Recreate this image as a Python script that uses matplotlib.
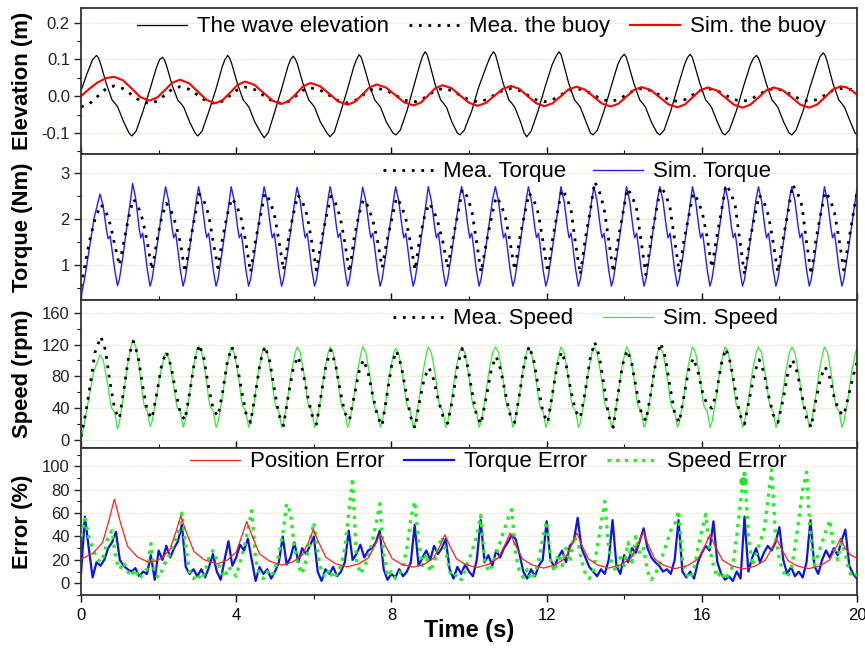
import numpy as np
import matplotlib
matplotlib.use('Agg')
import matplotlib.pyplot as plt
from matplotlib.ticker import MultipleLocator, FormatStrFormatter

plt.rcParams['font.family'] = ['Liberation Sans', 'DejaVu Sans']

# ---------------- panel 1: elevation (m) ----------------
wave_t = [0.0, 0.15, 0.30, 0.40,
          0.45, 0.50, 0.65, 0.80, 0.88, 0.95, 1.10, 1.24, 1.31,
          1.42, 1.60, 1.78, 1.95, 2.03, 2.10,
          2.15, 2.20, 2.35, 2.50, 2.58, 2.65, 2.80, 2.94, 3.01,
          3.12, 3.30, 3.48, 3.64, 3.71, 3.78,
          3.83, 3.88, 4.03, 4.18, 4.26, 4.33, 4.48, 4.64, 4.72,
          4.83, 5.00, 5.17, 5.33, 5.40, 5.47,
          5.52, 5.57, 5.72, 5.87, 5.95, 6.02, 6.17, 6.34, 6.42,
          6.53, 6.70, 6.87, 7.03, 7.10, 7.17,
          7.22, 7.27, 7.42, 7.57, 7.65, 7.72, 7.87, 8.04, 8.12,
          8.23, 8.40, 8.57, 8.73, 8.80, 8.87,
          8.92, 8.97, 9.12, 9.27, 9.35, 9.42, 9.56, 9.70, 9.77,
          9.88, 10.07, 10.25, 10.46, 10.55, 10.63,
          10.68, 10.73, 10.88, 11.03, 11.11, 11.18, 11.33, 11.42, 11.49,
          11.60, 11.78, 11.96, 12.14, 12.24, 12.32,
          12.37, 12.42, 12.57, 12.72, 12.80, 12.87, 13.02, 13.13, 13.20,
          13.31, 13.48, 13.66, 13.83, 13.92, 14.00,
          14.05, 14.10, 14.25, 14.40, 14.48, 14.55, 14.70, 14.85, 14.92,
          15.03, 15.20, 15.38, 15.55, 15.63, 15.70,
          15.75, 15.80, 15.95, 16.10, 16.18, 16.25, 16.40, 16.53, 16.60,
          16.71, 16.89, 17.07, 17.25, 17.33, 17.41,
          17.46, 17.51, 17.66, 17.81, 17.89, 17.96, 18.11, 18.25, 18.32,
          18.43, 18.61, 18.79, 18.97, 19.05, 19.13,
          19.18, 19.23, 19.38, 19.53, 19.61, 19.68, 19.83, 19.95, 20.0]
wave_elev = [0.015, 0.06, 0.10, 0.111,
             0.104, 0.09, 0.035, -0.01, -0.02, -0.03, -0.07, -0.10, -0.108,
             -0.095, -0.04, 0.02, 0.08, 0.10, 0.106,
             0.099, 0.085, 0.03, -0.012, -0.02, -0.03, -0.07, -0.10, -0.108,
             -0.095, -0.04, 0.02, 0.08, 0.10, 0.111,
             0.104, 0.09, 0.035, -0.01, -0.02, -0.03, -0.07, -0.10, -0.113,
             -0.098, -0.04, 0.02, 0.08, 0.10, 0.109,
             0.102, 0.09, 0.035, -0.01, -0.02, -0.03, -0.07, -0.10, -0.110,
             -0.097, -0.04, 0.02, 0.08, 0.10, 0.113,
             0.106, 0.09, 0.035, -0.01, -0.02, -0.03, -0.07, -0.10, -0.105,
             -0.092, -0.04, 0.025, 0.085, 0.108, 0.121,
             0.114, 0.095, 0.035, -0.01, -0.02, -0.03, -0.07, -0.10, -0.105,
             -0.092, -0.04, 0.025, 0.085, 0.108, 0.121,
             0.114, 0.095, 0.035, -0.01, -0.02, -0.03, -0.07, -0.10, -0.110,
             -0.095, -0.04, 0.025, 0.085, 0.108, 0.121,
             0.114, 0.095, 0.035, -0.01, -0.02, -0.03, -0.07, -0.10, -0.105,
             -0.092, -0.04, 0.025, 0.085, 0.105, 0.114,
             0.107, 0.09, 0.035, -0.01, -0.02, -0.03, -0.07, -0.10, -0.105,
             -0.092, -0.04, 0.025, 0.085, 0.105, 0.114,
             0.107, 0.09, 0.035, -0.01, -0.02, -0.03, -0.07, -0.10, -0.105,
             -0.092, -0.04, 0.025, 0.085, 0.103, 0.111,
             0.104, 0.09, 0.035, -0.01, -0.02, -0.03, -0.07, -0.10, -0.105,
             -0.092, -0.04, 0.025, 0.085, 0.108, 0.118,
             0.111, 0.095, 0.035, -0.01, -0.02, -0.03, -0.07, -0.10, -0.105]

buoy_t = [0.0, 0.21, 0.42, 0.64, 0.85,
          1.08, 1.31, 1.53, 1.76,
          1.96, 2.16, 2.35, 2.55,
          2.78, 3.01, 3.23, 3.46,
          3.65, 3.85, 4.04, 4.23,
          4.47, 4.70, 4.94, 5.17,
          5.36, 5.55, 5.73, 5.92,
          6.16, 6.40, 6.63, 6.87,
          7.06, 7.25, 7.43, 7.62,
          7.86, 8.10, 8.33, 8.57,
          8.76, 8.95, 9.13, 9.32,
          9.55, 9.77, 10.00, 10.22,
          10.44, 10.65, 10.87, 11.08,
          11.30, 11.51, 11.73, 11.94,
          12.15, 12.36, 12.56, 12.77,
          12.99, 13.21, 13.43, 13.65,
          13.85, 14.05, 14.25, 14.45,
          14.68, 14.91, 15.14, 15.37,
          15.57, 15.76, 15.96, 16.15,
          16.38, 16.60, 16.83, 17.05,
          17.25, 17.46, 17.66, 17.86,
          18.09, 18.32, 18.54, 18.77,
          18.97, 19.18, 19.38, 19.58,
          19.72, 19.86, 20.0]
mea_buoy = [-0.029, -0.021, -0.001, 0.020, 0.028,
            0.021, 0.004, -0.013, -0.020,
            -0.0133, 0.003, 0.0193, 0.026,
            0.0193, 0.003, -0.0133, -0.020,
            -0.0134, 0.0025, 0.0184, 0.025,
            0.0184, 0.0025, -0.0134, -0.020,
            -0.0137, 0.0015, 0.0167, 0.023,
            0.017, 0.0025, -0.012, -0.018,
            -0.0122, 0.002, 0.0162, 0.022,
            0.0164, 0.003, -0.0104, -0.016,
            -0.0106, 0.0025, 0.0156, 0.021,
            0.0157, 0.003, -0.0097, -0.015,
            -0.0097, 0.003, 0.0157, 0.021,
            0.0157, 0.003, -0.0097, -0.015,
            -0.0097, 0.003, 0.0157, 0.021,
            0.0159, 0.0035, -0.0089, -0.014,
            -0.0089, 0.0035, 0.0159, 0.021,
            0.0159, 0.0035, -0.0089, -0.014,
            -0.0089, 0.0035, 0.0159, 0.021,
            0.0159, 0.0035, -0.0089, -0.014,
            -0.0089, 0.0035, 0.0159, 0.021,
            0.0159, 0.0035, -0.0089, -0.014,
            -0.0089, 0.0035, 0.0159, 0.021,
            0.020, 0.018, 0.014]
sim_buoy = [0.0, 0.020, 0.037, 0.049, 0.053,
            0.0435, 0.0205, -0.0025, -0.012,
            -0.0037, 0.0165, 0.0367, 0.045,
            0.0357, 0.013, -0.0097, -0.019,
            -0.0104, 0.0105, 0.0314, 0.040,
            0.0311, 0.0095, -0.0121, -0.021,
            -0.0127, 0.0075, 0.0277, 0.036,
            0.0274, 0.0065, -0.0144, -0.023,
            -0.015, 0.0045, 0.024, 0.032,
            0.0237, 0.0035, -0.0167, -0.025,
            -0.017, 0.0025, 0.022, 0.030,
            0.0218, 0.002, -0.0178, -0.026,
            -0.0181, 0.001, 0.0201, 0.028,
            0.020, 0.0005, -0.019, -0.027,
            -0.0193, -0.0005, 0.0183, 0.026,
            0.0181, -0.001, -0.0201, -0.028,
            -0.0203, -0.0015, 0.0173, 0.025,
            0.017, -0.0025, -0.022, -0.030,
            -0.0221, -0.003, 0.0161, 0.024,
            0.016, -0.0035, -0.023, -0.031,
            -0.023, -0.0035, 0.016, 0.024,
            0.016, -0.0035, -0.023, -0.031,
            -0.0225, -0.002, 0.0185, 0.027,
            0.0245, 0.016, 0.004]

# ---------------- panels 2 and 3: simulated torque / speed ----------------
t_sim = [0.0, 0.10, 0.22, 0.34,
         0.49, 0.57, 0.66, 0.70, 0.75, 0.79, 0.87, 0.94, 0.99, 1.09, 1.19, 1.29,
         1.33, 1.41, 1.50, 1.54, 1.59, 1.63, 1.71, 1.78, 1.83, 1.93, 2.03, 2.13,
         2.18, 2.26, 2.35, 2.39, 2.44, 2.48, 2.56, 2.63, 2.68, 2.78, 2.88, 2.98,
         3.03, 3.11, 3.20, 3.24, 3.29, 3.33, 3.41, 3.48, 3.53, 3.63, 3.73, 3.83,
         3.87, 3.95, 4.04, 4.08, 4.13, 4.17, 4.25, 4.32, 4.37, 4.47, 4.57, 4.67,
         4.72, 4.80, 4.89, 4.93, 4.98, 5.02, 5.10, 5.17, 5.22, 5.32, 5.42, 5.52,
         5.57, 5.65, 5.74, 5.78, 5.83, 5.87, 5.95, 6.02, 6.07, 6.17, 6.27, 6.37,
         6.42, 6.50, 6.59, 6.63, 6.68, 6.72, 6.80, 6.87, 6.92, 7.02, 7.12, 7.22,
         7.26, 7.34, 7.43, 7.47, 7.52, 7.56, 7.64, 7.71, 7.76, 7.86, 7.96, 8.06,
         8.11, 8.19, 8.28, 8.32, 8.37, 8.41, 8.49, 8.56, 8.61, 8.71, 8.81, 8.91,
         8.95, 9.03, 9.12, 9.16, 9.21, 9.25, 9.33, 9.40, 9.45, 9.55, 9.65, 9.75,
         9.81, 9.89, 9.98, 10.02, 10.07, 10.11, 10.19, 10.26, 10.31, 10.41, 10.51, 10.61,
         10.68, 10.76, 10.85, 10.89, 10.94, 10.98, 11.06, 11.13, 11.18, 11.28, 11.38, 11.48,
         11.53, 11.61, 11.70, 11.74, 11.79, 11.83, 11.91, 11.98, 12.03, 12.13, 12.23, 12.33,
         12.37, 12.45, 12.54, 12.58, 12.63, 12.67, 12.75, 12.82, 12.87, 12.97, 13.07, 13.17,
         13.22, 13.30, 13.39, 13.43, 13.48, 13.52, 13.60, 13.67, 13.72, 13.82, 13.92, 14.02,
         14.06, 14.14, 14.23, 14.27, 14.32, 14.36, 14.44, 14.51, 14.56, 14.66, 14.76, 14.86,
         14.92, 15.00, 15.09, 15.13, 15.18, 15.22, 15.30, 15.37, 15.42, 15.52, 15.62, 15.72,
         15.76, 15.84, 15.93, 15.97, 16.02, 16.06, 16.14, 16.21, 16.26, 16.36, 16.46, 16.56,
         16.60, 16.68, 16.77, 16.81, 16.86, 16.90, 16.98, 17.05, 17.10, 17.20, 17.30, 17.40,
         17.46, 17.54, 17.63, 17.67, 17.72, 17.76, 17.84, 17.91, 17.96, 18.06, 18.16, 18.26,
         18.32, 18.40, 18.49, 18.53, 18.58, 18.62, 18.70, 18.77, 18.82, 18.92, 19.02, 19.12,
         19.16, 19.24, 19.33, 19.37, 19.42, 19.46, 19.54, 19.61, 19.66, 19.76, 19.86, 19.96,
         20.0]
torque_sim = [0.31, 0.75, 1.39, 2.04,
              2.55, 2.30, 1.75, 1.58, 1.64, 1.40, 0.90, 0.56, 0.70, 1.25, 1.90, 2.50,
              2.78, 2.45, 1.80, 1.60, 1.70, 1.45, 0.90, 0.55, 0.70, 1.25, 1.85, 2.45,
              2.71, 2.40, 1.80, 1.60, 1.70, 1.45, 0.90, 0.55, 0.70, 1.25, 1.85, 2.45,
              2.71, 2.40, 1.80, 1.61, 1.70, 1.45, 0.90, 0.55, 0.70, 1.25, 1.85, 2.45,
              2.71, 2.40, 1.80, 1.60, 1.69, 1.45, 0.90, 0.55, 0.70, 1.25, 1.85, 2.45,
              2.71, 2.40, 1.80, 1.60, 1.70, 1.45, 0.90, 0.55, 0.70, 1.25, 1.85, 2.45,
              2.70, 2.40, 1.80, 1.60, 1.70, 1.45, 0.90, 0.55, 0.70, 1.25, 1.85, 2.45,
              2.71, 2.40, 1.80, 1.61, 1.70, 1.45, 0.90, 0.55, 0.70, 1.25, 1.85, 2.45,
              2.70, 2.40, 1.80, 1.60, 1.70, 1.45, 0.90, 0.55, 0.70, 1.25, 1.85, 2.45,
              2.71, 2.40, 1.80, 1.60, 1.70, 1.45, 0.90, 0.55, 0.70, 1.25, 1.85, 2.45,
              2.71, 2.40, 1.80, 1.60, 1.70, 1.45, 0.90, 0.55, 0.70, 1.25, 1.85, 2.45,
              2.71, 2.40, 1.80, 1.60, 1.70, 1.45, 0.90, 0.55, 0.70, 1.25, 1.85, 2.45,
              2.71, 2.40, 1.80, 1.60, 1.70, 1.45, 0.90, 0.55, 0.70, 1.25, 1.85, 2.45,
              2.71, 2.40, 1.80, 1.60, 1.70, 1.45, 0.90, 0.55, 0.70, 1.25, 1.85, 2.45,
              2.71, 2.40, 1.80, 1.60, 1.70, 1.45, 0.90, 0.55, 0.70, 1.25, 1.85, 2.45,
              2.71, 2.40, 1.80, 1.60, 1.70, 1.45, 0.90, 0.55, 0.70, 1.25, 1.85, 2.45,
              2.71, 2.40, 1.80, 1.60, 1.70, 1.45, 0.90, 0.55, 0.70, 1.25, 1.85, 2.45,
              2.71, 2.40, 1.80, 1.60, 1.70, 1.45, 0.90, 0.55, 0.70, 1.25, 1.85, 2.45,
              2.71, 2.40, 1.80, 1.60, 1.70, 1.45, 0.90, 0.55, 0.70, 1.25, 1.85, 2.45,
              2.71, 2.40, 1.80, 1.60, 1.70, 1.45, 0.90, 0.55, 0.70, 1.25, 1.85, 2.45,
              2.71, 2.40, 1.80, 1.60, 1.70, 1.45, 0.90, 0.55, 0.70, 1.25, 1.85, 2.45,
              2.71, 2.40, 1.80, 1.60, 1.70, 1.45, 0.90, 0.55, 0.70, 1.25, 1.85, 2.45,
              2.71, 2.40, 1.80, 1.60, 1.70, 1.45, 0.90, 0.55, 0.70, 1.25, 1.85, 2.45,
              2.68]
speed_sim = [0, 25, 58, 88,
             107, 101, 78, 66, 49, 40, 35, 14, 22, 55, 92, 118,
             126, 118, 92, 75, 55, 43, 36, 17, 23, 50, 80, 102,
             110, 103, 80, 68, 50, 41, 36, 16, 22, 52, 88, 112,
             118, 111, 86, 72, 52, 42, 36, 16, 22, 50, 85, 110,
             116, 109, 85, 72, 52, 42, 36, 16, 22, 50, 85, 110,
             117, 110, 85, 72, 52, 42, 36, 16, 22, 50, 85, 110,
             117, 110, 85, 72, 52, 42, 36, 16, 22, 50, 85, 110,
             117, 110, 85, 72, 52, 42, 36, 16, 22, 50, 85, 110,
             117, 110, 85, 72, 52, 42, 36, 16, 22, 50, 85, 110,
             115, 108, 84, 71, 52, 42, 36, 16, 22, 50, 85, 110,
             117, 110, 85, 72, 52, 42, 36, 16, 22, 50, 85, 110,
             117, 110, 85, 72, 52, 42, 36, 16, 22, 50, 85, 110,
             117, 110, 85, 72, 52, 42, 36, 16, 22, 50, 85, 110,
             117, 110, 85, 72, 52, 42, 36, 16, 22, 50, 85, 110,
             117, 110, 85, 72, 52, 42, 36, 16, 22, 50, 85, 110,
             117, 110, 85, 72, 52, 42, 36, 16, 22, 50, 85, 110,
             117, 110, 85, 72, 52, 42, 36, 16, 22, 50, 85, 110,
             117, 110, 85, 72, 52, 42, 36, 16, 22, 50, 85, 110,
             117, 110, 85, 72, 52, 42, 36, 16, 22, 50, 85, 110,
             117, 110, 85, 72, 52, 42, 36, 16, 22, 50, 85, 110,
             117, 110, 85, 72, 52, 42, 36, 16, 22, 50, 85, 110,
             117, 110, 85, 72, 52, 42, 36, 16, 22, 50, 85, 110,
             117, 110, 85, 72, 52, 42, 36, 16, 22, 50, 85, 110,
             115]

# ---------------- panels 2 and 3: measured torque / speed ----------------
t_mea = [0.0, 0.12, 0.24, 0.36,
         0.51, 0.63, 0.75, 0.87, 0.99,
         1.11, 1.23, 1.35, 1.47, 1.59, 1.71, 1.83,
         1.96, 2.08, 2.20, 2.32, 2.44, 2.56, 2.68,
         2.81, 2.93, 3.05, 3.17, 3.29, 3.41, 3.53,
         3.65, 3.77, 3.89, 4.01, 4.13, 4.25, 4.37,
         4.50, 4.62, 4.74, 4.86, 4.98, 5.10, 5.22,
         5.35, 5.47, 5.59, 5.71, 5.83, 5.95, 6.07,
         6.20, 6.32, 6.44, 6.56, 6.68, 6.80, 6.92,
         7.04, 7.16, 7.28, 7.40, 7.52, 7.64, 7.76,
         7.89, 8.01, 8.13, 8.25, 8.37, 8.49, 8.61,
         8.73, 8.85, 8.97, 9.09, 9.21, 9.33, 9.45,
         9.59, 9.71, 9.83, 9.95, 10.07, 10.19, 10.31,
         10.46, 10.58, 10.70, 10.82, 10.94, 11.06, 11.18,
         11.31, 11.43, 11.55, 11.67, 11.79, 11.91, 12.03,
         12.15, 12.27, 12.39, 12.51, 12.63, 12.75, 12.87,
         13.00, 13.12, 13.24, 13.36, 13.48, 13.60, 13.72,
         13.84, 13.96, 14.08, 14.20, 14.32, 14.44, 14.56,
         14.70, 14.82, 14.94, 15.06, 15.18, 15.30, 15.42,
         15.54, 15.66, 15.78, 15.90, 16.02, 16.14, 16.26,
         16.38, 16.50, 16.62, 16.74, 16.86, 16.98, 17.10,
         17.24, 17.36, 17.48, 17.60, 17.72, 17.84, 17.96,
         18.10, 18.22, 18.34, 18.46, 18.58, 18.70, 18.82,
         18.94, 19.06, 19.18, 19.30, 19.42, 19.54, 19.66,
         19.78, 19.90, 20.0]
torque_mea = [0.54, 1.10, 1.60, 2.00,
              2.32, 2.20, 1.90, 1.45, 1.00,
              1.55, 2.05, 2.44, 2.29, 1.99, 1.50, 0.90,
              1.55, 2.05, 2.35, 2.20, 1.90, 1.50, 0.85,
              1.50, 2.05, 2.55, 2.40, 2.10, 1.50, 0.95,
              1.60, 2.10, 2.46, 2.31, 2.01, 1.50, 0.85,
              1.55, 2.05, 2.57, 2.42, 2.12, 1.55, 0.90,
              1.60, 2.10, 2.53, 2.38, 2.08, 1.50, 0.90,
              1.55, 2.05, 2.50, 2.35, 2.05, 1.50, 0.85,
              1.60, 2.10, 2.43, 2.28, 1.98, 1.55, 0.95,
              1.55, 2.00, 2.47, 2.32, 2.02, 1.50, 0.90,
              1.60, 2.05, 2.35, 2.20, 1.90, 1.50, 0.95,
              1.60, 2.10, 2.65, 2.50, 2.20, 1.55, 0.85,
              1.55, 2.05, 2.49, 2.34, 2.04, 1.50, 0.90,
              1.60, 2.10, 2.57, 2.42, 2.12, 1.50, 0.85,
              1.55, 2.10, 2.65, 2.50, 2.20, 1.45, 0.80,
              1.60, 2.15, 2.82, 2.60, 2.25, 1.55, 0.85,
              1.55, 2.10, 2.67, 2.52, 2.22, 1.50, 0.80,
              1.60, 2.15, 2.71, 2.56, 2.26, 1.55, 0.85,
              1.55, 2.05, 2.57, 2.42, 2.12, 1.60, 0.95,
              1.60, 2.15, 2.75, 2.60, 2.30, 1.55, 0.80,
              1.55, 2.05, 2.53, 2.38, 2.08, 1.50, 0.85,
              1.60, 2.15, 2.75, 2.60, 2.30, 1.50, 0.80,
              1.55, 2.10, 2.60, 2.45, 2.15, 1.55, 0.90,
              1.50, 2.10, 2.60]
speed_mea = [4, 33, 70, 110,
             130, 113, 72, 38, 27,
             65, 105, 124, 106, 68, 36, 27,
             60, 95, 111, 93, 61, 34, 25,
             62, 100, 120, 102, 66, 38, 30,
             60, 98, 117, 99, 64, 34, 22,
             60, 98, 118, 100, 65, 32, 18,
             58, 90, 105, 88, 58, 32, 20,
             60, 95, 113, 95, 62, 34, 25,
             55, 85, 101, 85, 56, 30, 18,
             58, 95, 112, 94, 62, 30, 15,
             50, 78, 91, 76, 50, 30, 21,
             55, 95, 115, 97, 63, 32, 20,
             58, 90, 105, 88, 58, 32, 22,
             60, 98, 118, 100, 65, 34, 22,
             58, 93, 111, 93, 61, 36, 28,
             62, 102, 123, 105, 68, 30, 16,
             58, 95, 113, 95, 62, 34, 24,
             62, 100, 122, 104, 67, 34, 22,
             55, 88, 103, 86, 60, 44, 40,
             60, 95, 115, 97, 63, 32, 20,
             55, 85, 101, 85, 56, 32, 22,
             52, 85, 101, 85, 56, 28, 16,
             50, 78, 92, 78, 52, 36, 31,
             55, 80, 98]

# ---------------- panel 4: errors (%) ----------------
pos_err_t = [0.0, 0.30, 0.56, 0.73, 0.86,
             1.00, 1.20, 1.46, 1.78,
             2.06, 2.29, 2.45, 2.57,
             2.71, 2.91, 3.17, 3.50,
             3.77, 4.00, 4.15, 4.27,
             4.41, 4.60, 4.86, 5.17,
             5.46, 5.70, 5.87, 5.99,
             6.12, 6.31, 6.55, 6.85,
             7.15, 7.41, 7.58, 7.71,
             7.84, 8.02, 8.26, 8.56,
             8.85, 9.09, 9.26, 9.38,
             9.50, 9.68, 9.91, 10.20,
             10.50, 10.76, 10.93, 11.06,
             11.19, 11.38, 11.62, 11.92,
             12.22, 12.48, 12.65, 12.78,
             12.90, 13.08, 13.31, 13.60,
             13.91, 14.18, 14.36, 14.49,
             14.61, 14.79, 15.02, 15.31,
             15.63, 15.90, 16.08, 16.21,
             16.34, 16.53, 16.77, 17.07,
             17.37, 17.63, 17.80, 17.93,
             18.05, 18.23, 18.46, 18.75,
             19.04, 19.29, 19.45, 19.58,
             19.70, 19.85, 20.0]
pos_err = [20.8, 25.4, 35.1, 55.0, 71.9,
           53.9, 31.6, 22.3, 17.4,
           21.0, 28.6, 44.3, 57.5,
           44.0, 27.2, 20.2, 16.5,
           19.8, 26.7, 40.8, 52.8,
           40.5, 25.2, 18.9, 15.5,
           18.2, 24.0, 35.9, 46.0,
           35.4, 22.3, 16.9, 14.0,
           16.5, 21.8, 32.8, 42.0,
           32.7, 21.1, 16.3, 13.8,
           16.3, 21.6, 32.4, 41.5,
           32.3, 20.8, 16.0, 13.5,
           16.2, 21.8, 33.3, 43.0,
           33.1, 20.8, 15.7, 13.0,
           15.7, 21.4, 33.1, 43.0,
           33.1, 20.8, 15.7, 13.0,
           15.8, 21.7, 33.8, 44.0,
           33.6, 20.7, 15.3, 12.5,
           15.1, 20.6, 31.9, 41.5,
           31.9, 19.9, 14.9, 12.3,
           14.6, 19.5, 29.5, 38.0,
           29.6, 19.1, 14.8, 12.5,
           14.8, 19.8, 29.9, 38.5,
           29.6, 23.8, 21.5]

err_t = np.round(np.arange(201) * 0.1, 1)
torque_err = [8, 57, 30, 5, 18, 15, 20, 30, 35, 44,
              20, 15, 12, 10, 13, 6, 10, 8, 24, 3,
              28, 20, 32, 22, 30, 36, 50, 14, 8, 12,
              6, 12, 5, 14, 25, 10, 3, 20, 36, 15,
              22, 33, 28, 38, 20, 2, 14, 8, 12, 4,
              10, 18, 40, 16, 22, 35, 18, 30, 25, 32,
              40, 10, 2, 12, 8, 14, 6, 10, 18, 45,
              20, 25, 33, 22, 28, 30, 35, 45, 12, 3,
              8, 5, 12, 6, 10, 18, 50, 15, 22, 28,
              20, 32, 25, 30, 38, 12, 4, 14, 8, 16,
              10, 6, 20, 54, 18, 24, 15, 28, 22, 30,
              35, 41, 38, 25, 10, 4, 12, 6, 15, 20,
              53, 20, 14, 22, 28, 18, 32, 36, 56, 30,
              22, 14, 10, 6, 12, 8, 20, 54, 15, 8,
              24, 18, 30, 26, 36, 47, 30, 22, 18, 15,
              10, 12, 8, 20, 54, 10, 5, 10, 4, 18,
              26, 32, 28, 53, 18, 8, 3, 6, 2, 10,
              4, 57, 10, 22, 30, 18, 26, 32, 28, 35,
              48, 20, 8, 14, 6, 10, 5, 18, 54, 15,
              8, 20, 28, 22, 30, 24, 36, 46, 15, 8,
              4]
speed_err = [40, 55, 40, 30, 22, 18, 25, 40, 45, 20,
             12, 18, 10, 6, 12, 4, 8, 12, 34, 8,
             5, 12, 20, 25, 35, 42, 60, 30, 10, 4,
             8, 3, 10, 22, 28, 20, 12, 5, 14, 10,
             6, 18, 30, 45, 62, 20, 8, 4, 10, 6,
             12, 25, 42, 68, 60, 30, 15, 8, 20, 35,
             52, 25, 10, 5, 12, 4, 8, 15, 30, 60,
             90, 20, 8, 14, 22, 35, 50, 68, 25, 6,
             10, 4, 8, 15, 30, 55, 70, 35, 15, 25,
             10, 18, 30, 40, 28, 10, 5, 8, 3, 12,
             20, 30, 40, 58, 20, 10, 15, 25, 35, 45,
             55, 63, 25, 10, 5, 12, 3, 8, 20, 38,
             53, 20, 10, 25, 15, 30, 18, 40, 35, 20,
             8, 4, 10, 30, 50, 70, 30, 15, 10, 22,
             15, 35, 18, 40, 25, 30, 10, 3, 8, 15,
             25, 35, 45, 50, 62, 20, 8, 4, 12, 30,
             45, 59, 30, 15, 5, 10, 3, 8, 15, 40,
             70, 97, 40, 15, 25, 35, 45, 70, 97, 40,
             20, 10, 5, 12, 30, 55, 80, 95, 40, 15,
             25, 35, 45, 54, 30, 20, 35, 25, 10, 5,
             8]
speed_err_mark_t = [17.05]
speed_err_mark_v = [87]

# ---------------- figure ----------------
W_PX, H_PX = 865, 653
fig = plt.figure(figsize=(W_PX / 100, H_PX / 100), dpi=100)
left, right = 81, 857
rows = [(8, 154), (154, 300), (300, 448), (448, 595)]
axes = []
for top, bot in rows:
    ax = fig.add_axes([left / W_PX, 1 - bot / H_PX, (right - left) / W_PX, (bot - top) / H_PX])
    axes.append(ax)

dot = (0, (1, 2.4))
grid_kw = dict(color='#dedcb8', linestyle=(0, (1, 1.5)), linewidth=0.8)

ax1, ax2, ax3, ax4 = axes

# panel 1
l1, = ax1.plot(wave_t, wave_elev, color='black', lw=0.9, label='The wave elevation')
l2, = ax1.plot(buoy_t, mea_buoy, color='black', lw=2.0, linestyle=dot,
               dash_capstyle='butt', label='Mea. the buoy')
l3, = ax1.plot(buoy_t, sim_buoy, color='#ff0000', lw=1.5, label='Sim. the buoy')
ax1.set_ylim(-0.157, 0.24)
ax1.yaxis.set_major_locator(MultipleLocator(0.1))
ax1.yaxis.set_minor_locator(MultipleLocator(0.05))
ax1.yaxis.set_major_formatter(FormatStrFormatter('%.1f'))
ax1.set_ylabel('Elevation (m)')
ax1.legend(handles=[l1, l2, l3], loc='center left', bbox_to_anchor=(0.072, 0.87),
           ncol=3, frameon=False, fontsize=16, handlelength=2.25, handletextpad=0.45,
           columnspacing=0.9, borderpad=0, borderaxespad=0)

# panel 2
s2, = ax2.plot(t_sim, torque_sim, color='#1f1fff', lw=1.0, label='Sim. Torque')
m2, = ax2.plot(t_mea, torque_mea, color='black', lw=2.0, linestyle=dot,
               dash_capstyle='butt', label='Mea. Torque')
ax2.set_ylim(0.25, 3.42)
ax2.yaxis.set_major_locator(MultipleLocator(1))
ax2.yaxis.set_minor_locator(MultipleLocator(0.5))
ax2.set_ylabel('Torque (Nm)')
ax2.legend(handles=[m2, s2], loc='center left', bbox_to_anchor=(0.389, 0.877),
           ncol=2, frameon=False, fontsize=16, handlelength=2.25, handletextpad=0.45,
           columnspacing=1.2, borderpad=0, borderaxespad=0)

# panel 3
s3, = ax3.plot(t_sim, speed_sim, color='#3ae83a', lw=0.9, label='Sim. Speed')
m3, = ax3.plot(t_mea, speed_mea, color='black', lw=2.0, linestyle=dot,
               dash_capstyle='butt', label='Mea. Speed')
ax3.set_ylim(-10, 176)
ax3.yaxis.set_major_locator(MultipleLocator(40))
ax3.yaxis.set_minor_locator(MultipleLocator(20))
ax3.set_ylabel('Speed (rpm)')
ax3.legend(handles=[m3, s3], loc='center left', bbox_to_anchor=(0.402, 0.872),
           ncol=2, frameon=False, fontsize=16, handlelength=2.25, handletextpad=0.45,
           columnspacing=1.35, borderpad=0, borderaxespad=0)

# panel 4
b4, = ax4.plot(err_t, torque_err, color='#0a14e6', lw=1.6, zorder=2, label='Torque Error')
g4, = ax4.plot(err_t, speed_err, color='#22f022', lw=2.4, linestyle=(0, (1, 1.6)),
               dash_capstyle='butt', zorder=3, label='Speed Error')
ax4.plot(speed_err_mark_t, speed_err_mark_v, 'o', color='#22e022', ms=5, zorder=4)
r4, = ax4.plot(pos_err_t, pos_err, color='#ff2020', lw=0.9, zorder=4, label='Position Error')
ax4.set_ylim(-10, 115.6)
ax4.yaxis.set_major_locator(MultipleLocator(20))
ax4.yaxis.set_minor_locator(MultipleLocator(10))
ax4.set_ylabel('Error (%)')
ax4.legend(handles=[r4, b4, g4], loc='center left', bbox_to_anchor=(0.140, 0.905),
           ncol=3, frameon=False, fontsize=16, handlelength=2.25, handletextpad=0.45,
           columnspacing=0.9, borderpad=0, borderaxespad=0)

for i, ax in enumerate(axes):
    ax.set_xlim(0, 20)
    ax.xaxis.set_major_locator(MultipleLocator(4))
    ax.xaxis.set_minor_locator(MultipleLocator(2))
    ax.grid(axis='y', which='major', **grid_kw)
    ax.set_axisbelow(True)
    for sp in ax.spines.values():
        sp.set_linewidth(1.3)
        sp.set_color('#333333')
    ax.tick_params(axis='y', which='major', direction='out', length=5, width=1,
                   labelsize=12, pad=3, colors='#222222')
    ax.tick_params(axis='y', which='minor', direction='out', length=3, width=0.8)
    last = (i == len(axes) - 1)
    ax.tick_params(axis='x', which='major', direction='out' if last else 'in',
                   length=5, width=1, labelsize=12, pad=4, labelbottom=last)
    ax.tick_params(axis='x', which='minor', direction='out' if last else 'in',
                   length=3, width=0.8)
    ax.yaxis.label.set_fontsize(15.8)
    ax.yaxis.label.set_fontweight('bold')
    ax.yaxis.set_label_coords(-0.062, 0.5)

fig.text(469 / W_PX, 1 - 630 / H_PX, 'Time (s)', ha='center', va='center',
         fontsize=17, fontweight='bold')

fig.savefig('out.png', dpi=100)
